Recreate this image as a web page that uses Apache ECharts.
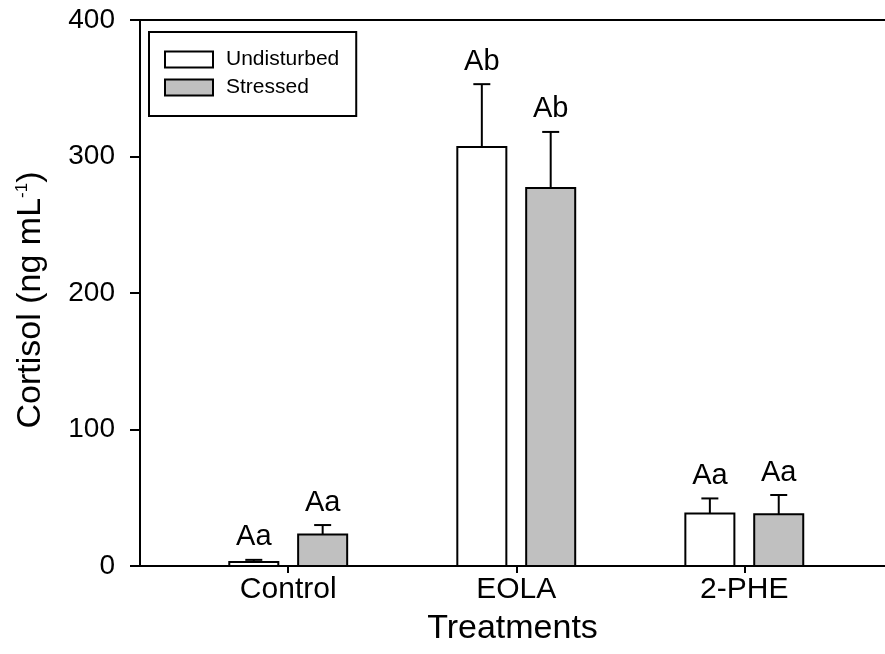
<!DOCTYPE html>
<html>
<head>
<meta charset="utf-8">
<script src="https://cdn.jsdelivr.net/npm/echarts@6/dist/echarts.min.js"></script>
<style>
  html, body { margin: 0; padding: 0; background: #fff; }
  #chart { width: 885px; height: 654px; }
</style>
</head>
<body>
<div id="chart"></div>
<script>
// Cortisol by treatment, undisturbed vs stressed fish (mean + SE)
const treatments = ['Control', 'EOLA', '2-PHE'];
const undisturbed = [3, 307, 38.5];
const undisturbedErr = [1.5, 46, 11];
const stressed = [23, 277, 38];
const stressedErr = [7, 41, 14];
const undisturbedLetters = ['Aa', 'Ab', 'Aa'];
const stressedLetters = ['Aa', 'Ab', 'Aa'];
const yTicks = [0, 100, 200, 300, 400];

const FONT = "'Liberation Sans', Arial, sans-serif";
const BAR_W = 0.215;   // bar width in x-axis units
const BAR_OFF = 0.151; // half distance between paired bar centres
const CAP_PX = 17;

function makeRender(offset, fill, letters) {
  return function (params, api) {
    const x = api.value(0) + offset;
    const v = api.value(1);
    const e = api.value(2);
    const idx = api.value(3);
    const base = api.coord([x, 0]);
    const top = api.coord([x, v]);
    const errTop = api.coord([x, v + e]);
    const w = api.size([BAR_W, 0])[0];
    return {
      type: 'group',
      children: [
        {
          type: 'line',
          shape: { x1: top[0], y1: top[1], x2: errTop[0], y2: errTop[1] },
          style: { stroke: '#000', lineWidth: 2 }
        },
        {
          type: 'line',
          shape: { x1: errTop[0] - CAP_PX / 2, y1: errTop[1], x2: errTop[0] + CAP_PX / 2, y2: errTop[1] },
          style: { stroke: '#000', lineWidth: 2 }
        },
        {
          type: 'rect',
          shape: { x: base[0] - w / 2, y: top[1], width: w, height: base[1] - top[1] },
          style: { fill: fill, stroke: '#000', lineWidth: 2 }
        },
        {
          type: 'text',
          x: errTop[0],
          y: errTop[1] - 8,
          style: {
            text: letters[idx],
            fontSize: 29,
            fontFamily: FONT,
            fill: '#000',
            align: 'center',
            verticalAlign: 'bottom'
          }
        }
      ]
    };
  };
}

const chart = echarts.init(document.getElementById('chart'), null, { renderer: 'canvas' });

chart.setOption({
  animation: false,
  backgroundColor: '#fff',
  textStyle: { fontFamily: FONT, color: '#000' },
  grid: { left: 140, top: 20, right: 0, bottom: 88 },
  legend: {
    left: 149,
    top: 32,
    orient: 'vertical',
    itemWidth: 48,
    itemHeight: 16,
    itemGap: 7,
    padding: [17, 17, 18, 15],
    borderColor: '#000',
    borderWidth: 2,
    textStyle: { fontSize: 21, fontFamily: FONT, color: '#000', padding: [0, 0, 0, 8] },
    data: [
      { name: 'Undisturbed', icon: 'rect', itemStyle: { color: '#ffffff', borderColor: '#000', borderWidth: 2 } },
      { name: 'Stressed', icon: 'rect', itemStyle: { color: '#c0c0c0', borderColor: '#000', borderWidth: 2 } }
    ]
  },
  xAxis: [
    {
      type: 'value',
      min: 0.35,
      max: 3.617,
      name: 'Treatments',
      nameLocation: 'middle',
      nameGap: 46,
      nameTextStyle: { fontSize: 34, fontFamily: FONT, color: '#000' },
      axisLine: { show: true, lineStyle: { color: '#000', width: 2 } },
      axisTick: { show: true, customValues: [1, 2, 3], length: 7, lineStyle: { color: '#000', width: 2 } },
      axisLabel: {
        customValues: [1, 2, 3],
        formatter: function (v) { return treatments[Math.round(v) - 1]; },
        fontSize: 30, fontFamily: FONT, color: '#000', margin: 9
      },
      splitLine: { show: false }
    },
    {
      // frame line along the top of the plot
      type: 'value',
      position: 'top',
      min: 0.35,
      max: 3.617,
      axisLine: { show: true, onZero: false, lineStyle: { color: '#000', width: 2 } },
      axisTick: { show: false },
      axisLabel: { show: false },
      splitLine: { show: false }
    }
  ],
  yAxis: {
    type: 'value',
    min: yTicks[0],
    max: yTicks[yTicks.length - 1],
    interval: 100,
    name: '{t|Cortisol (ng mL}{s|-1}{t|)}',
    nameLocation: 'middle',
    nameGap: 92,
    nameTextStyle: {
      fontSize: 34, fontFamily: FONT, color: '#000',
      padding: [0, 14, 0, 0],
      rich: {
        t: { fontSize: 34, fontFamily: FONT, color: '#000' },
        s: { fontSize: 17, fontFamily: FONT, color: '#000', verticalAlign: 'top', padding: [0, 0, 14, 0] }
      }
    },
    axisLine: { show: true, lineStyle: { color: '#000', width: 2 } },
    axisTick: { show: true, inside: false, length: 10, lineStyle: { color: '#000', width: 2 } },
    axisLabel: { fontSize: 28, fontFamily: FONT, color: '#000', margin: 25 },
    splitLine: { show: false }
  },
  series: [
    {
      name: 'Undisturbed',
      type: 'custom',
      itemStyle: { color: '#ffffff', borderColor: '#000', borderWidth: 2 },
      renderItem: makeRender(-BAR_OFF, '#ffffff', undisturbedLetters),
      encode: { x: 0, y: 1 },
      data: treatments.map((t, i) => [i + 1, undisturbed[i], undisturbedErr[i], i])
    },
    {
      name: 'Stressed',
      type: 'custom',
      itemStyle: { color: '#c0c0c0', borderColor: '#000', borderWidth: 2 },
      renderItem: makeRender(BAR_OFF, '#c0c0c0', stressedLetters),
      encode: { x: 0, y: 1 },
      data: treatments.map((t, i) => [i + 1, stressed[i], stressedErr[i], i])
    }
  ]
});
</script>
</body>
</html>
